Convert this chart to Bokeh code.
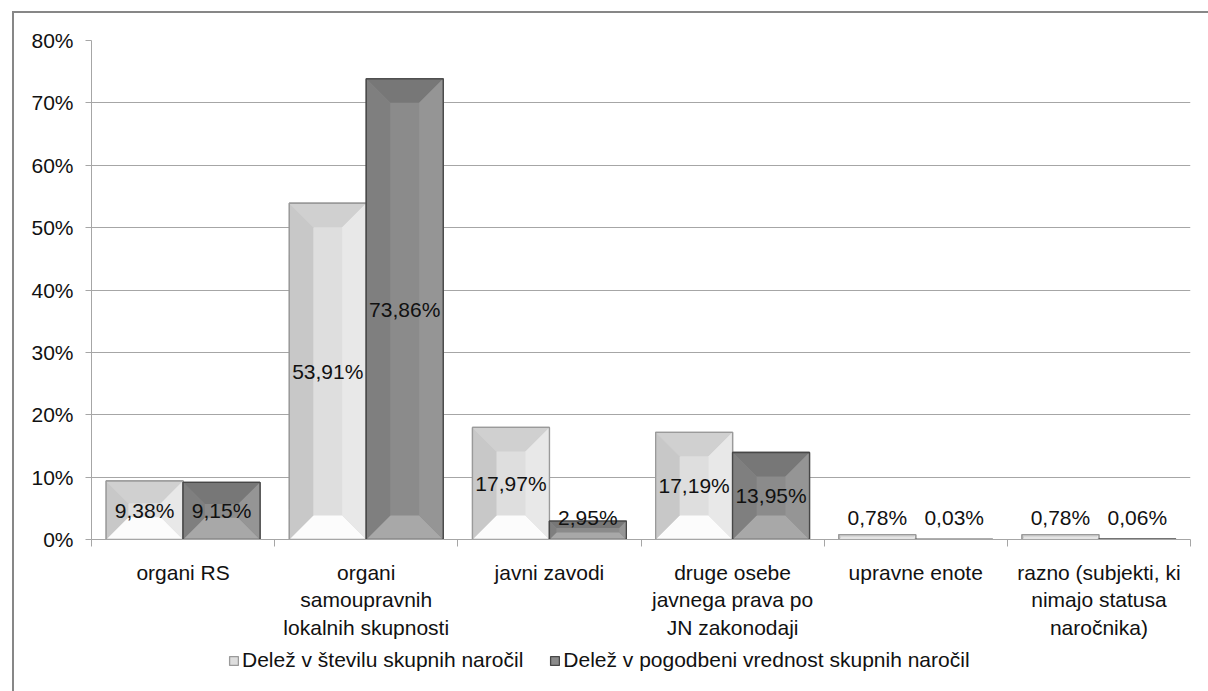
import numpy as np
from bokeh.plotting import figure
from bokeh.layouts import column
from bokeh.models import Range1d, FixedTicker, PrintfTickFormatter, Legend, LegendItem, ColumnDataSource
from bokeh.core.properties import value
from bokeh.embed import file_html
from bokeh.resources import INLINE

# ---------------- data ----------------
categories = [
    "organi RS",
    "organi\nsamoupravnih\nlokalnih skupnosti",
    "javni zavodi",
    "druge osebe\njavnega prava po\nJN zakonodaji",
    "upravne enote",
    "razno (subjekti, ki\nnimajo statusa\nnaročnika)",
]
share_count = [9.38, 53.91, 17.97, 17.19, 0.78, 0.78]
share_value = [9.15, 73.86, 2.95, 13.95, 0.03, 0.06]
series_names = ["Delež v številu skupnih naročil",
                "Delež v pogodbeni vrednost skupnih naročil"]
y_ticks = [0, 10, 20, 30, 40, 50, 60, 70, 80]

FONT = value("Liberation Sans")
FS = "21px"

W, H = 1194, 678
LEFT, RIGHT, TOP, BOTTOM = 77, 18, 27, 152
FW, FH = W - LEFT - RIGHT, H - TOP - BOTTOM
n = len(categories)
xpp = n / FW          # data units per pixel (x)
ypp = 80.0 / FH       # data units per pixel (y)

p = figure(width=W, height=H, output_backend="svg", toolbar_location=None,
           x_range=Range1d(0, n), y_range=Range1d(0, 80),
           min_border_left=LEFT, min_border_right=RIGHT,
           min_border_top=TOP, min_border_bottom=BOTTOM)
p.outline_line_color = None
p.background_fill_color = "white"
p.border_fill_color = "white"

# axes
p.xaxis.ticker = FixedTicker(ticks=[i + 0.5 for i in range(n)],
                             minor_ticks=list(range(n + 1)))
p.xaxis.major_label_overrides = {i + 0.5: c for i, c in enumerate(categories)}
p.xaxis.major_tick_line_color = None
p.xaxis.minor_tick_line_color = "#a6a6a6"
p.xaxis.minor_tick_out = 7
p.xaxis.minor_tick_in = 0
p.xaxis.axis_line_color = "#a6a6a6"
p.xaxis.major_label_standoff = 14
p.xaxis.major_label_text_font = "Liberation Sans"
p.xaxis.major_label_text_font_size = FS
p.xaxis.major_label_text_color = "#111111"

p.yaxis.ticker = FixedTicker(ticks=y_ticks)
p.yaxis.formatter = PrintfTickFormatter(format="%d%%")
p.yaxis.major_tick_out = 6
p.yaxis.major_tick_in = 0
p.yaxis.major_tick_line_color = "#a6a6a6"
p.yaxis.minor_tick_line_color = None
p.yaxis.axis_line_color = "#a6a6a6"
p.yaxis.major_label_standoff = 12
p.yaxis.major_label_text_font = "Liberation Sans"
p.yaxis.major_label_text_font_size = FS
p.yaxis.major_label_text_color = "#111111"

p.xgrid.grid_line_color = None
p.ygrid.ticker = FixedTicker(ticks=y_ticks)
p.ygrid.grid_line_color = "#a6a6a6"
p.ygrid.grid_line_width = 1

# ---------------- bevelled bars ----------------
BW = 0.42
styles = [
    dict(offset=0.29, face="#dedede", border="#9a9a9a",
         top="#d0d0d0", left="#c8c8c8", right="#e8e8e8", bottom="#fcfcfc"),
    dict(offset=0.71, face="#8b8b8b", border="#474747",
         top="#777777", left="#7f7f7f", right="#959595", bottom="#a8a8a8"),
]
for vals, st in zip([share_count, share_value], styles):
    L = np.array([i + st["offset"] - BW / 2 for i in range(n)])
    R = L + BW
    T = np.array(vals, dtype=float)
    hpx = T / ypp
    bpx = np.minimum(24.0, 0.38 * hpx)
    bx = bpx * xpp
    by = bpx * ypp
    p.quad(left=L, right=R, bottom=0, top=T, fill_color=st["face"],
           line_color=st["border"], line_width=1.3)
    sides = {
        "top": ([[l, r, r - a, l + a] for l, r, a in zip(L, R, bx)],
                [[t, t, t - b, t - b] for t, b in zip(T, by)]),
        "bottom": ([[l, r, r - a, l + a] for l, r, a in zip(L, R, bx)],
                   [[0, 0, b, b] for b in by]),
        "left": ([[l, l, l + a, l + a] for l, a in zip(L, bx)],
                 [[0, t, t - b, b] for t, b in zip(T, by)]),
        "right": ([[r, r, r - a, r - a] for r, a in zip(R, bx)],
                  [[0, t, t - b, b] for t, b in zip(T, by)]),
    }
    for k, (xs, ys) in sides.items():
        p.patches(xs=xs, ys=ys, fill_color=st[k], line_color=None)
    p.quad(left=L, right=R, bottom=0, top=T, fill_color=None,
           line_color=st["border"], line_width=1.3)

    # data labels
    lab_src = ColumnDataSource(dict(
        x=(L + R) / 2,
        y=np.maximum(T / 2, 3.6),
        t=[f"{v:.2f}%".replace(".", ",") for v in vals]))
    p.text(x="x", y="y", text="t", source=lab_src, text_align="center",
           text_baseline="middle", text_font=FONT, text_font_size=FS,
           text_color="#111111")

# ---------------- legend strip (own small figure, overlaid) ----------------
LH = 60
q = figure(width=W, height=LH, output_backend="svg", toolbar_location=None,
           x_range=Range1d(0, 1), y_range=Range1d(0, 1),
           min_border=0, min_border_left=0, min_border_right=0,
           min_border_top=0, min_border_bottom=0)
q.axis.visible = False
q.grid.grid_line_color = None
q.outline_line_color = None
q.background_fill_alpha = 0
q.border_fill_alpha = 0
q.styles = {"margin-top": "-46px"}
# legend-only swatches: placed outside the visible range of the strip
leg_r = [q.quad(left=[-3], right=[-2], bottom=[-3], top=[-2], fill_color=st["face"],
                line_color=st["border"], line_width=1.3) for st in styles]
legend = Legend(items=[LegendItem(label=series_names[i], renderers=[leg_r[i]])
                       for i in range(2)],
                location=(137, 33), orientation="horizontal",
                label_text_font="Liberation Sans", label_text_font_size=FS,
                label_text_color="#111111", glyph_width=11, glyph_height=11,
                label_standoff=3, spacing=26, padding=0, margin=0,
                border_line_color=None, background_fill_alpha=0)
q.add_layout(legend)

layout = column(p, q, spacing=0)
layout.styles = {"margin-left": "12px", "margin-top": "11px",
                 "border-left": "2px solid #878787", "border-top": "2px solid #878787"}

open("out.html", "w").write(file_html(layout, INLINE))
